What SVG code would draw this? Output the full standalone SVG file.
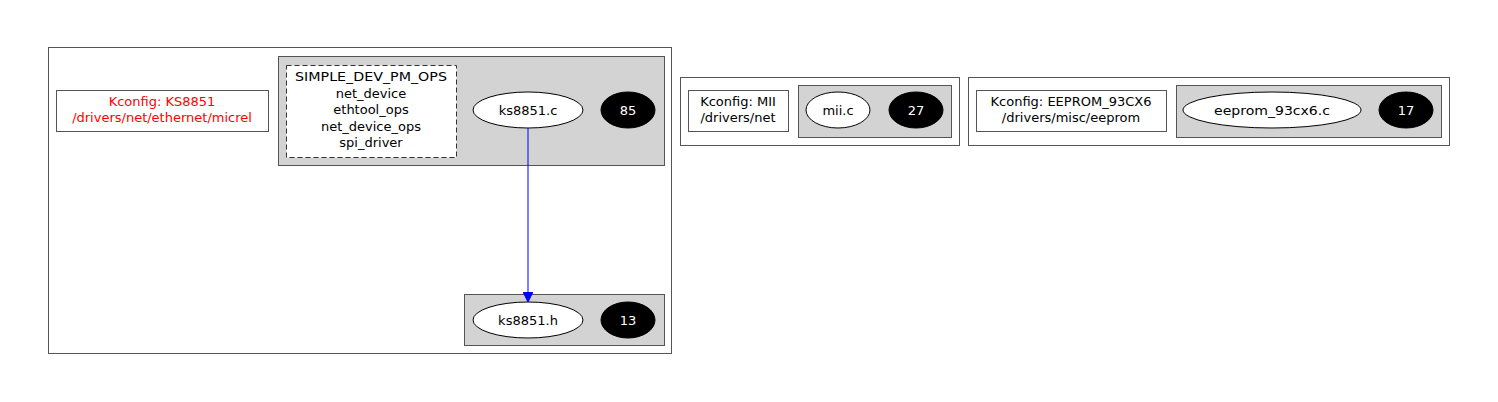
<svg xmlns="http://www.w3.org/2000/svg" width="1498" height="402" viewBox="0 0 1498 402">
<style>
text{font-family:"DejaVu Sans","Liberation Sans",sans-serif;font-size:13px;text-anchor:middle;fill:#000}
.cl{fill:#fff;stroke:#555;stroke-width:1}
.gr{fill:#d3d3d3;stroke:#555;stroke-width:1}
.kc{fill:#fff;stroke:#555;stroke-width:1}
.fe{fill:#fff;stroke:#000;stroke-width:1}
.cnt{fill:#000;stroke:#000}
.w{fill:#fff}
.red{fill:#ff0000}
</style>
<defs>
<marker id="ah" markerWidth="10" markerHeight="10" refX="10" refY="5" orient="auto" markerUnits="userSpaceOnUse">
<path d="M0,0 L10,5 L0,10 Z" fill="#0000ff" stroke="#0000ff"/>
</marker>
</defs>
<rect width="1498" height="402" fill="#fff"/>

<g id="cluster_ks8851">
<rect class="cl" x="48.5" y="47.5" width="623" height="306"/>
<rect class="gr" x="278.5" y="56.5" width="386" height="109"/>
<rect class="gr" x="464.5" y="294.5" width="200" height="51"/>
</g>

<g id="kconfig_ks8851">
<rect class="kc" x="56.5" y="90.5" width="212" height="41"/>
<text class="red" x="162" y="106">Kconfig: KS8851</text>
<text class="red" x="162" y="122">/drivers/net/ethernet/micrel</text>
</g>

<g id="symbols">
<rect x="286.5" y="65.5" width="170" height="92" fill="#fff" stroke="#333" stroke-dasharray="5,3"/>
<text x="371" y="81" textLength="152" lengthAdjust="spacingAndGlyphs">SIMPLE_DEV_PM_OPS</text>
<text x="371" y="97.5">net_device</text>
<text x="371" y="114">ethtool_ops</text>
<text x="371" y="130.5">net_device_ops</text>
<text x="371" y="147">spi_driver</text>
</g>

<g id="ks8851_c">
<ellipse class="fe" cx="528" cy="110" rx="55" ry="18"/>
<text x="528" y="115">ks8851.c</text>
</g>
<g id="ks8851_c_count">
<ellipse class="cnt" cx="628" cy="110" rx="27" ry="18"/>
<text class="w" x="628" y="115">85</text>
</g>

<g id="ks8851_h">
<ellipse class="fe" cx="528" cy="320" rx="55" ry="18"/>
<text x="528" y="325">ks8851.h</text>
</g>
<g id="ks8851_h_count">
<ellipse class="cnt" cx="628" cy="320" rx="27" ry="18"/>
<text class="w" x="628" y="325">13</text>
</g>

<g id="cluster_mii">
<rect class="cl" x="680.5" y="77.5" width="279" height="68"/>
<rect class="gr" x="798.5" y="85.5" width="153" height="52"/>
</g>
<g id="kconfig_mii">
<rect class="kc" x="688.5" y="90.5" width="100" height="41"/>
<text x="738" y="106">Kconfig: MII</text>
<text x="738" y="122">/drivers/net</text>
</g>
<g id="mii_c">
<ellipse class="fe" cx="838" cy="110" rx="32" ry="18"/>
<text x="838" y="115">mii.c</text>
</g>
<g id="mii_c_count">
<ellipse class="cnt" cx="916" cy="110" rx="27" ry="18"/>
<text class="w" x="916" y="115">27</text>
</g>

<g id="cluster_eeprom">
<rect class="cl" x="968.5" y="77.5" width="481" height="68"/>
<rect class="gr" x="1176.5" y="85.5" width="265" height="52"/>
</g>
<g id="kconfig_eeprom">
<rect class="kc" x="976.5" y="90.5" width="190" height="41"/>
<text x="1071" y="106">Kconfig: EEPROM_93CX6</text>
<text x="1071" y="122">/drivers/misc/eeprom</text>
</g>
<g id="eeprom_c">
<ellipse class="fe" cx="1272" cy="110" rx="89" ry="18"/>
<text x="1272" y="115" textLength="116" lengthAdjust="spacingAndGlyphs">eeprom_93cx6.c</text>
</g>
<g id="eeprom_c_count">
<ellipse class="cnt" cx="1406" cy="110" rx="27" ry="18"/>
<text class="w" x="1406" y="115">17</text>
</g>

<g id="connectors">
<path d="M528,128 L528,302" fill="none" stroke="#0000ff" stroke-width="1" marker-end="url(#ah)"/>
</g>
</svg>
